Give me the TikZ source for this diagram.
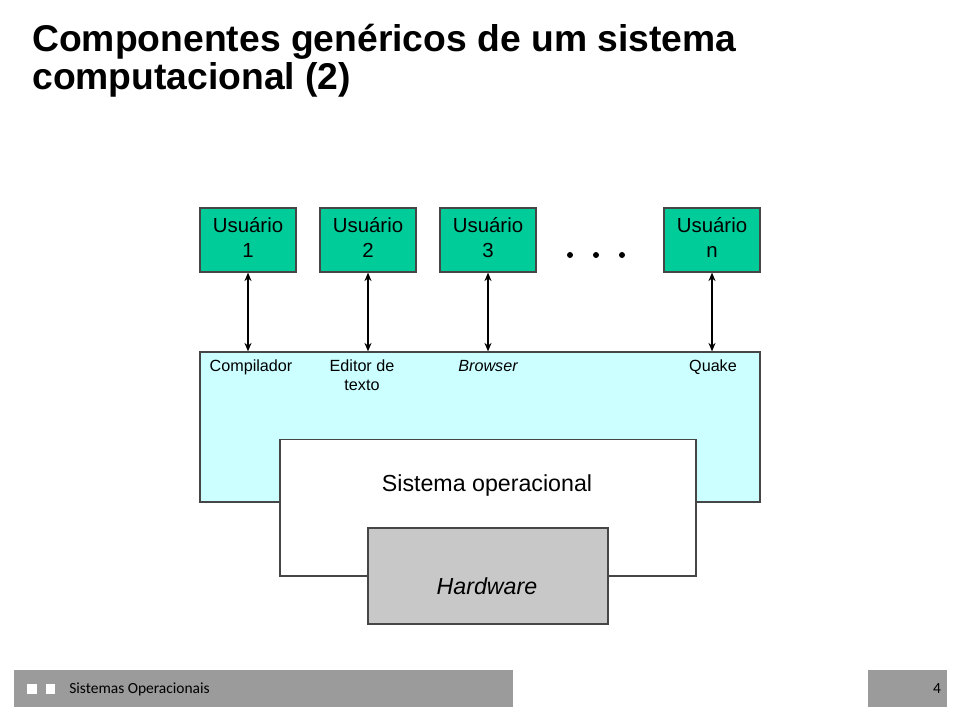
\documentclass[tikz,border=0pt]{standalone}
\usepackage{fontspec}
\setmainfont{Liberation Sans}
\newfontfamily\footfont{Carlito}
\usetikzlibrary{arrows.meta,positioning}
\definecolor{usergreen}{RGB}{0,204,153}
\definecolor{appcyan}{RGB}{204,255,255}
\definecolor{hwgray}{RGB}{200,200,200}
\definecolor{bargray}{RGB}{155,155,155}
\definecolor{edgegray}{RGB}{70,70,70}
\tikzset{
  titletext/.style={anchor=base west,inner sep=0pt,font=\fontsize{26.5}{27}\selectfont\bfseries},
  userbox/.style={draw=edgegray,line width=0.9pt,fill=usergreen,minimum width=2.4cm,minimum height=1.6cm,
    inner sep=0pt,align=center,font=\fontsize{14.5}{17.7}\selectfont},
  layerbox/.style={draw=edgegray,line width=0.9pt,inner sep=0pt},
  applabel/.style={anchor=north,inner sep=0pt,align=center,font=\fontsize{11.5}{13.5}\selectfont},
  layertext/.style={anchor=base,inner sep=0pt,font=\fontsize{16.5}{20}\selectfont},
  link/.style={{Stealth[length=6pt,width=5pt]}-{Stealth[length=6pt,width=5pt]},line width=0.9pt},
  foottext/.style={anchor=base west,inner sep=0pt,font=\footfont\fontsize{11}{13}\selectfont}
}
\begin{document}
\begin{tikzpicture}[x=0.025cm,y=-0.025cm]
\useasboundingbox (0,0) rectangle (960,720);
\node[titletext] (title1) at (32,52) {Componentes genéricos de um sistema};
\node[titletext] (title2) at (32,90) {computacional (2)};
\foreach \x/\n in {248/1,368/2,488/3,712/n}
  \node[userbox] (u\n) at (\x,240) {\strut Usuário\\\strut\n};
\foreach \x in {570,596,622}
  \fill (\x,255) circle (3);
\node[layerbox,fill=appcyan,minimum width=14cm,minimum height=3.75cm] (apps) at (480,427) {};
\foreach \n in {1,2,3,n}
  \draw[link] (u\n.south) -- (u\n.south |- apps.north);
\node[applabel] (comp) at (251,360) {Compilador};
\node[applabel] (editor) at (362,360) {Editor de\\texto};
\node[applabel] (browser) at (488,360) {\itshape Browser};
\node[applabel] (quake) at (713,360) {Quake};
\node[layerbox,fill=white,minimum width=10.4cm,minimum height=3.41cm] (so) at (488,507.75) {};
\node[layertext] (sotext) at (487,492) {Sistema operacional};
\node[layerbox,fill=hwgray,minimum width=6cm,minimum height=2.4cm] (hw) at (488,576) {};
\node[layertext] (hwtext) at (487,595) {\itshape Hardware};
\fill[bargray] (14,670) rectangle (513,707);
\fill[white] (27,684) rectangle (37,694);
\fill[white] (46,684) rectangle (55,694);
\node[foottext] (curso) at (69,693.5) {Sistemas Operacionais};
\fill[bargray] (868,670) rectangle (947,707);
\node[foottext,anchor=base] (pagina) at (937,693.5) {4};
\end{tikzpicture}
\end{document}
